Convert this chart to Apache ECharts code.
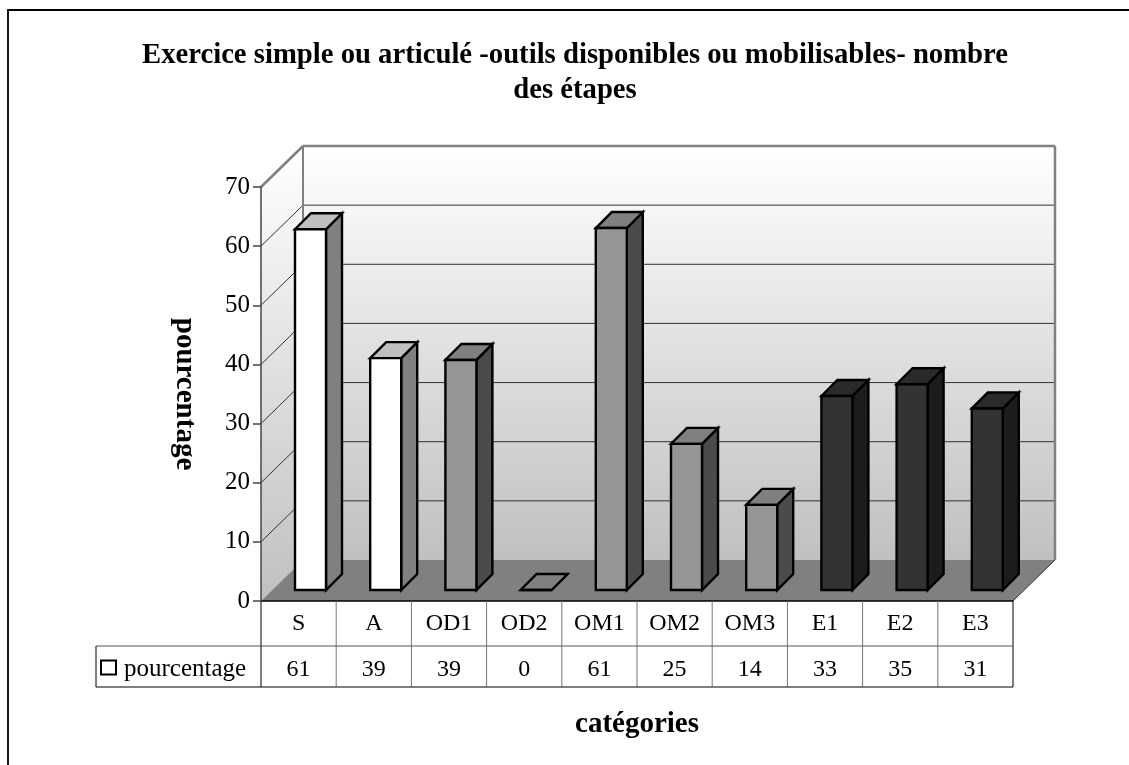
<!DOCTYPE html>
<html><head><meta charset="utf-8">
<style>html,body{margin:0;padding:0;background:#fff}#c{width:1129px;height:765px}</style>
<script src="https://cdn.jsdelivr.net/npm/echarts@6/dist/echarts.min.js"></script>
</head><body><div id="c"></div>
<script>
const categories = ['S','A','OD1','OD2','OM1','OM2','OM3','E1','E2','E3'];
const barValues = [61,39.2,38.9,0,61.2,24.7,14.4,32.8,34.8,30.7];
const tableValues = [61,39,39,0,61,25,14,33,35,31];
const groups = [0,0,1,1,1,1,1,2,2,2];
const yTicks = [0,10,20,30,40,50,60,70];
const seriesName = 'pourcentage';
const titleText = 'Exercice simple ou articulé -outils disponibles ou mobilisables- nombre\ndes étapes';

const FONT = '"Liberation Serif", "Times New Roman", serif';
const palette = [
  {front:'#ffffff', side:'#808080', top:'#c0c0c0'},
  {front:'#969696', side:'#4b4b4b', top:'#808080'},
  {front:'#333333', side:'#1c1c1c', top:'#2a2a2a'}
];
const WALL = {dx:42, dy:-41};
const BAR = {ox:-3.6, oy:-11, w:31, dx:16, dy:-16};
const ROW1 = 45, ROW2 = 41, TABLE_LEFT = 96;

function wallItem(params, api){
  if (params.dataIndex !== 0) return null;
  const p0 = api.coord([0, 0]);
  const bw = api.size([1, 0])[0];
  const L = p0[0] - bw/2, R = L + bw*categories.length;
  const yTop = api.coord([0, 70])[1], yBot = p0[1];
  const dx = WALL.dx, dy = WALL.dy;
  const grad = ()=>new echarts.graphic.LinearGradient(0,0,0,1,[{offset:0,color:'#ffffff'},{offset:1,color:'#c0c0c0'}]);
  const ch = [];
  ch.push({type:'polygon',shape:{points:[[L,yTop],[L+dx,yTop+dy],[L+dx,yBot+dy],[L,yBot]]},style:{fill:grad()}});
  ch.push({type:'rect',shape:{x:L+dx,y:yTop+dy,width:R-L,height:yBot-yTop},style:{fill:grad()}});
  ch.push({type:'polygon',shape:{points:[[L,yBot],[L+dx,yBot+dy],[R+dx,yBot+dy],[R,yBot]]},style:{fill:'#808080'}});
  yTicks.forEach(t=>{
    if (t===0) return;
    const y = api.coord([0,t])[1];
    const top = t===70;
    const c = top ? '#808080' : '#333333', lw = top ? 2.5 : 1;
    ch.push({type:'line',shape:{x1:L,y1:y,x2:L+dx,y2:y+dy},style:{stroke:c,lineWidth:lw}});
    ch.push({type:'line',shape:{x1:L+dx,y1:y+dy,x2:R+dx,y2:y+dy},style:{stroke:c,lineWidth:lw}});
  });
  ch.push({type:'line',shape:{x1:L+dx,y1:yTop+dy,x2:L+dx,y2:yBot+dy},style:{stroke:'#808080',lineWidth:2}});
  ch.push({type:'line',shape:{x1:R+dx,y1:yTop+dy,x2:R+dx,y2:yBot+dy},style:{stroke:'#808080',lineWidth:2.5}});
  ch.push({type:'line',shape:{x1:R,y1:yBot,x2:R+dx,y2:yBot+dy},style:{stroke:'#333333',lineWidth:1}});
  ch.push({type:'line',shape:{x1:L,y1:yBot,x2:R,y2:yBot},style:{stroke:'#000',lineWidth:1.5}});
  return {type:'group',children:ch};
}
function barItem(params, api){
  const i = api.value(0), v = api.value(1);
  const base = api.coord([i, 0]), tip = api.coord([i, v]);
  const c = palette[groups[i]];
  const x0 = base[0] + BAR.ox, x1 = x0 + BAR.w;
  const yB = base[1] + BAR.oy, yT = tip[1] + BAR.oy;
  const ddx = BAR.dx, ddy = BAR.dy;
  const st = f => ({fill:f,stroke:'#000',lineWidth:2.4,lineJoin:'miter'});
  return {type:'group',children:[
    {type:'polygon',shape:{points:[[x1,yT],[x1+ddx,yT+ddy],[x1+ddx,yB+ddy],[x1,yB]]},style:st(c.side)},
    {type:'polygon',shape:{points:[[x0,yT],[x0+ddx,yT+ddy],[x1+ddx,yT+ddy],[x1,yT]]},style:st(c.top)},
    {type:'rect',shape:{x:x0,y:yT,width:BAR.w,height:yB-yT},style:st(c.front)}
  ]};
}
function tableItem(params, api){
  const i = params.dataIndex;
  const p = api.coord([i,0]);
  const bw = api.size([1,0])[0];
  const L = p[0]-bw/2, R = L+bw, y0 = p[1], y1 = y0+ROW1, y2 = y1+ROW2;
  const ch = [];
  const line=(a,b,c,d,col)=>({type:'line',shape:{x1:a,y1:b,x2:c,y2:d},style:{stroke:col||'#444',lineWidth:1}});
  ch.push(line(R,y0,R,y2, i===categories.length-1?'#000':'#777'));
  ch.push(line(L,y1,R,y1,'#555'));
  ch.push(line(L,y2,R,y2,'#000'));
  const txt=(s,x,y)=>({type:'text',x:x,y:y,style:{text:s,fill:'#000',font:'24px '+FONT,align:'center',verticalAlign:'middle'}});
  ch.push(txt(categories[i],p[0],y0+ROW1/2));
  ch.push(txt(String(tableValues[i]),p[0],y1+ROW2/2+3));
  if (i===0){
    ch.push(line(L,y0,L,y2,'#000'));
    ch.push(line(TABLE_LEFT,y1,L,y1,'#555'));
    ch.push(line(TABLE_LEFT,y2,L,y2,'#000'));
    ch.push(line(TABLE_LEFT,y1,TABLE_LEFT,y2,'#000'));
    ch.push({type:'rect',shape:{x:TABLE_LEFT+5,y:y1+ROW2/2-6,width:15,height:14},style:{fill:'#fff',stroke:'#000',lineWidth:2}});
    ch.push({type:'text',x:TABLE_LEFT+28,y:y1+ROW2/2+3,style:{text:seriesName,fill:'#000',font:'25px '+FONT,align:'left',verticalAlign:'middle'}});
  }
  return {type:'group',children:ch};
}
const chart = echarts.init(document.getElementById('c'),null,{renderer:'canvas'});
chart.setOption({
  animation:false,
  backgroundColor:'#fff',
  title:{text:titleText,left:570,top:33,textAlign:'center',
    textStyle:{fontFamily:FONT,fontWeight:'bold',fontSize:28.7,color:'#000',lineHeight:35}},
  grid:{left:261,right:116,top:187,bottom:164},
  graphic:[{type:'polyline',silent:true,z:100,shape:{points:[[8,770],[8,10],[1135,10]]},style:{fill:'none',stroke:'#000',lineWidth:1.8}}],
  xAxis:{type:'category',data:categories,name:'catégories',nameLocation:'middle',nameGap:109,
    nameTextStyle:{fontFamily:FONT,fontWeight:'bold',fontSize:29,color:'#000'},
    axisLine:{show:false},axisTick:{show:false},axisLabel:{show:false},splitLine:{show:false}},
  yAxis:{type:'value',min:0,max:70,interval:10,name:'pourcentage',nameLocation:'middle',nameGap:62,nameRotate:-90,
    nameTextStyle:{fontFamily:FONT,fontWeight:'bold',fontSize:29,color:'#000'},
    axisLine:{show:true,lineStyle:{color:'#444',width:1.5}},
    axisTick:{show:true,length:8,lineStyle:{color:'#444',width:1.5}},
    axisLabel:{fontFamily:FONT,fontSize:25,color:'#000',margin:11},
    splitLine:{show:false},z:5},
  series:[
    {type:'custom',name:'walls',renderItem:wallItem,data:[[0,0]],encode:{x:0,y:1},z:1,silent:true},
    {type:'custom',name:seriesName,renderItem:barItem,data:barValues.map((v,i)=>[i,v]),encode:{x:0,y:1},z:3},
    {type:'custom',name:'table',renderItem:tableItem,data:barValues.map((v,i)=>[i,v]),encode:{x:0,y:1},z:4,silent:true,clip:false}
  ]
});
</script></body></html>
